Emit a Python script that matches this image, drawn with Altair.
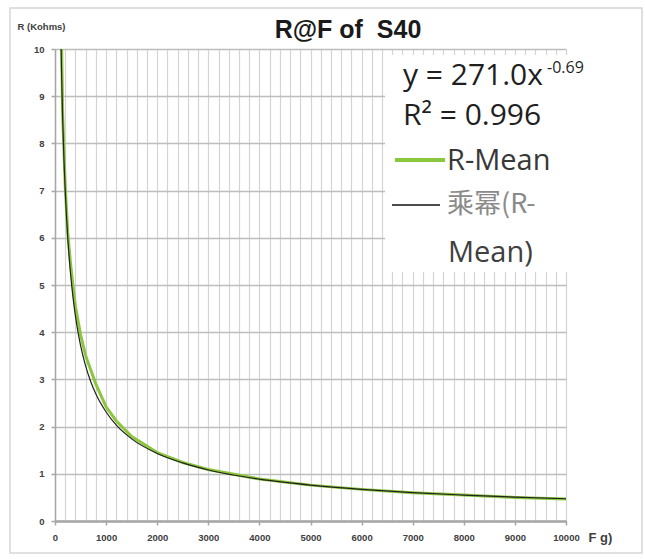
import altair as alt
import pandas as pd

F_MEAN = [110, 150, 200, 250, 300, 350, 400, 450, 500, 600, 700, 800, 1000,
          1200, 1500, 2000, 2500, 3000, 4000, 5000, 6000, 7000, 8000, 9000, 10000]
R_MEAN = [11.6, 8.6, 7.1, 6.1, 5.5, 5.0, 4.55, 4.25, 3.95, 3.5, 3.2, 2.9, 2.42,
          2.12, 1.79, 1.45, 1.24, 1.09, 0.89, 0.76, 0.67, 0.60, 0.55, 0.50, 0.465]

# Power trend line "乘幂(R-Mean)"
F_FIT = [110, 130, 150, 175, 200, 250, 300, 350, 400, 450, 500, 600, 700, 800,
         1000, 1200, 1500, 2000, 2500, 3000, 4000, 5000, 6000, 7000, 8000, 9000, 10000]
R_FIT = [10.58, 9.42, 8.53, 7.67, 7.0, 6.0, 5.29, 4.76, 4.34, 4.0, 3.72, 3.28, 2.95, 2.69,
         2.31, 2.03, 1.74, 1.43, 1.23, 1.08, 0.886, 0.76, 0.67, 0.60, 0.55, 0.506, 0.471]

X_GRID = list(range(0, 10001, 200))
Y_TICKS = list(range(0, 11))

TITLE = "R@F of\u00a0 S40"
Y_TITLE = "R (Kohms)"
X_TITLE = "F g)"
EQ_MAIN = "y = 271.0x"
EQ_EXP = "-0.69"
R2_TEXT = "R² = 0.996"
LEG1 = "R-Mean"
LEG2A = "乘幂(R-"
LEG2B = "Mean)"

W, H = 511, 472
GREEN = "#8cc63e"
LABEL_FONT = "Liberation Sans"

mean_df = pd.DataFrame({"F": F_MEAN, "R": R_MEAN})
fit_df = pd.DataFrame({"F": F_FIT, "R": R_FIT})
one = pd.DataFrame({"k": [0]})

xs = alt.Scale(domain=[0, 10000], nice=False, zero=False)
ys = alt.Scale(domain=[0, 10], nice=False)

x_axis = alt.Axis(
    values=X_GRID, tickCount=200, format="d",
    labelExpr="datum.value % 1000 == 0 ? format(datum.value, 'd') : ''",
    grid=True, gridColor="#d4d4d4", gridWidth=1.2,
    tickColor={"condition": {"test": "datum.value % 1000 == 0", "value": "#a6a6a6"},
               "value": "transparent"},
    tickSize=4, tickWidth=1.5,
    domainColor="#a6a6a6", domainWidth=2.5,
    labelFont=LABEL_FONT, labelFontSize=9.5, labelFontWeight="bold",
    labelColor="#404040", labelPadding=7, labelOverlap=False, labelFlush=False,
    title=X_TITLE, titleX=533, titleY=16, titleAlign="left", titleBaseline="middle",
    titleAngle=0, titleFont=LABEL_FONT, titleFontSize=13, titleFontWeight="bold",
    titleColor="#404040",
)
y_axis = alt.Axis(
    values=Y_TICKS, tickCount=20, format="d",
    grid=True, gridColor="#bdbdbd", gridWidth=1.5,
    tickColor="#a6a6a6", tickSize=4, tickWidth=1.5,
    domainColor="#a6a6a6", domainWidth=1.5,
    labelFont=LABEL_FONT, labelFontSize=9.5, labelFontWeight="bold",
    labelColor="#404040", labelPadding=7,
    title=Y_TITLE, titleX=-38, titleY=-23, titleAlign="left", titleBaseline="middle",
    titleAngle=0, titleFont=LABEL_FONT, titleFontSize=9.5, titleFontWeight="bold",
    titleColor="#404040",
)

green = alt.Chart(mean_df).mark_line(color=GREEN, strokeWidth=3, clip=True).encode(
    x=alt.X("F:Q", scale=xs, axis=x_axis),
    y=alt.Y("R:Q", scale=ys, axis=y_axis),
)
black = alt.Chart(fit_df).mark_line(color="#222222", strokeWidth=1.2, clip=True,
                                    interpolate="monotone").encode(
    x=alt.X("F:Q", scale=xs),
    y=alt.Y("R:Q", scale=ys),
)

border = alt.Chart(one).mark_rect(filled=False, stroke="#d6d6d6", strokeWidth=1.5).encode(
    x=alt.value(-45), x2=alt.value(587), y=alt.value(-41), y2=alt.value(504))

box = alt.Chart(one).mark_rect(color="white").encode(
    x=alt.value(330), x2=alt.value(540), y=alt.value(6), y2=alt.value(223))


def txt(s, x, y, size, color, font="Open Sans", baseline="alphabetic", weight="normal",
        align="left"):
    return alt.Chart(one).mark_text(text=s, align=align, baseline=baseline, font=font,
                                    fontSize=size, color=color, fontWeight=weight).encode(
        x=alt.value(x), y=alt.value(y))


title = txt(TITLE, 293, -11, 25, "#1a1a1a", font=LABEL_FONT, weight="bold", align="center")
eq1 = txt(EQ_MAIN, 348, 36, 30, "#1f1f1f")
eq2 = txt(EQ_EXP, 492, 24, 16, "#1f1f1f")
r2 = txt(R2_TEXT, 348, 76, 30, "#1f1f1f")
leg1 = txt(LEG1, 392, 121, 29, "#383838")
leg2a = txt(LEG2A, 392, 156, 27, "#8a8a8a", font="Noto Sans CJK SC", baseline="middle")
leg2b = txt(LEG2B, 393, 213, 29, "#404040")

gline = alt.Chart(one).mark_rule(color=GREEN, strokeWidth=4).encode(
    x=alt.value(340), x2=alt.value(390), y=alt.value(111))
bline = alt.Chart(one).mark_rule(color="#111111", strokeWidth=1.5).encode(
    x=alt.value(337), x2=alt.value(385), y=alt.value(156))

chart = alt.layer(
    border, green, black, box, title, eq1, eq2, r2, gline, leg1, bline, leg2a, leg2b
).properties(
    width=W, height=H,
    autosize=alt.AutoSizeParams(type="none"),
    padding={"left": 55, "top": 49, "right": 79, "bottom": 38},
).configure_view(stroke=None).configure(background="white")

chart.save("out.html", embed_options={"renderer": "svg", "actions": False})
